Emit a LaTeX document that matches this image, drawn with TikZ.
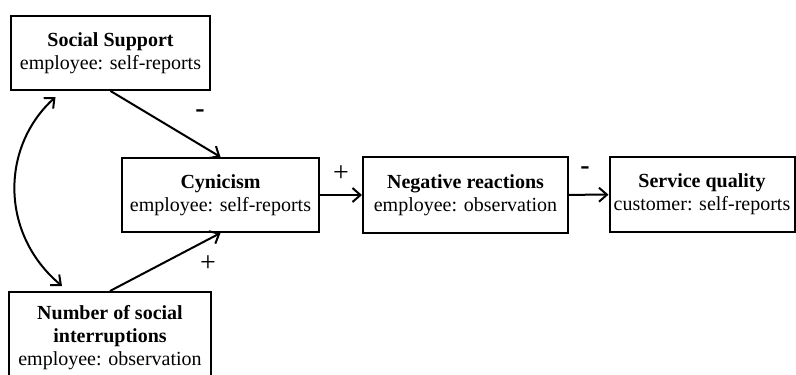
\documentclass[tikz,border=0pt]{standalone}
\usepackage{fontspec}
\setmainfont{Liberation Serif}
\usetikzlibrary{arrows.meta}
\tikzset{
  var/.style={draw,line width=2pt,align=center,inner sep=2pt,
    font=\fontsize{20}{23}\selectfont},
  sign/.style={font=\fontsize{28}{30}\selectfont},
  barb/.tip={Straight Barb[length=8pt,width=14pt,line width=2pt]},
  tip/.style={line width=2pt,-barb}
}
\begin{document}
\begin{tikzpicture}[x=1pt,y=-1pt]
    \useasboundingbox (0,0) rectangle (796,375);
    \node[var,minimum width=199pt,minimum height=74pt] (ss) at (110.5,53) {\textbf{Social Support}\\employee: self-reports};
    \node[var,minimum width=197pt,minimum height=74pt] (cyn) at (220.5,195) {\textbf{Cynicism}\\employee: self-reports};
    \node[var,minimum width=205pt,minimum height=76pt] (neg) at (465.5,195) {\textbf{Negative reactions}\\employee: observation};
    \node[var,minimum width=185pt,minimum height=75pt] (srv) at (702,194.5) {\textbf{Service quality}\\customer: self-reports};
    \node[var,minimum width=202pt,minimum height=92pt] (num) at (110,338) {\textbf{Number of social}\\\textbf{interruptions}\\employee: observation};
    \node[sign] (m1) at (200,114) {\textbf{-}};
    \node[sign] (p1) at (208,264) {+};
    \node[sign] (p2) at (341,174) {+};
    \node[sign] (m2) at (585,171) {\textbf{-}};
    \path[tip] (ss.south)	edge	(cyn.north)
	  (num.north)	edge	(cyn.south)
	  (cyn)		edge	(neg)
	  (neg)		edge	(srv);
    \draw[line width=2pt,barb-barb] ([xshift=-55pt,yshift=-6pt]ss.south)
      .. controls +(-55pt,-50pt) and +(-62pt,52pt) .. ([xshift=-48pt,yshift=5pt]num.north);
  \end{tikzpicture}
\end{document}
